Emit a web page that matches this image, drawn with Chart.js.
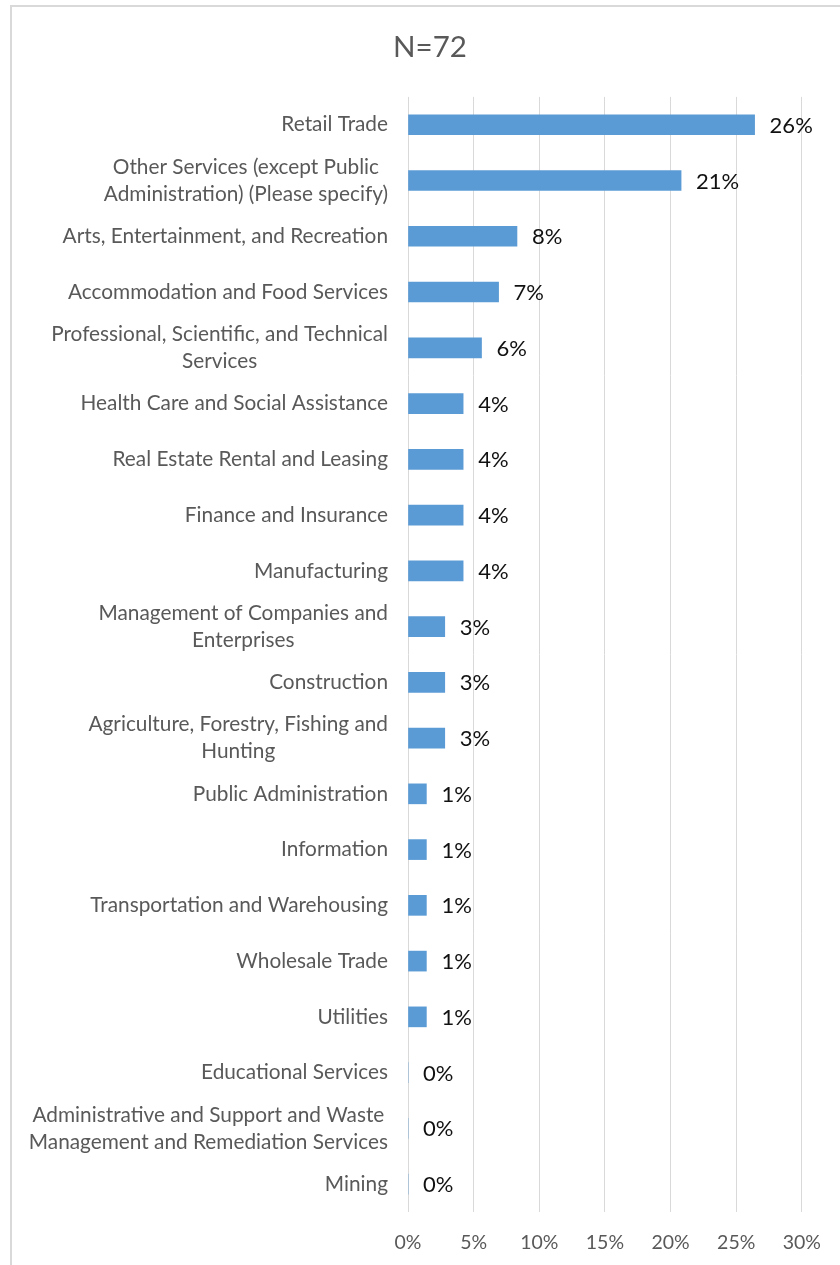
<!DOCTYPE html>
<html lang="en">
<head>
  <meta charset="UTF-8">
  <title>Industry breakdown N=72</title>
  <script src="https://cdn.jsdelivr.net/npm/chart.js"></script>
  <style>
    html, body { margin: 0; padding: 0; background: #fff; overflow: hidden; }
    #wrap { position: relative; width: 840px; height: 1265px; }
    #frame { position: absolute; left: 10px; top: 5px; width: 900px; height: 1400px; border: 2px solid #d9d9d9; box-sizing: border-box; }
    canvas { position: absolute; left: 0; top: 0; }
  </style>
</head>
<body>
<div id="wrap">
  <div id="frame"></div>
  <canvas id="industryChart" width="840" height="1265"></canvas>
</div>
<script>
  // 資料
  const chartTitle = 'N=72';
  const categories = [
    'Retail Trade',
    ['Other Services (except Public', 'Administration) (Please specify)'],
    'Arts, Entertainment, and Recreation',
    'Accommodation and Food Services',
    ['Professional, Scientific, and Technical', 'Services'],
    'Health Care and Social Assistance',
    'Real Estate Rental and Leasing',
    'Finance and Insurance',
    'Manufacturing',
    ['Management of Companies and', 'Enterprises'],
    'Construction',
    ['Agriculture, Forestry, Fishing and', 'Hunting'],
    'Public Administration',
    'Information',
    'Transportation and Warehousing',
    'Wholesale Trade',
    'Utilities',
    'Educational Services',
    ['Administrative and Support and Waste', 'Management and Remediation Services'],
    'Mining'
  ];
  const shares = [26.4, 20.8, 8.3, 6.9, 5.6, 4.2, 4.2, 4.2, 4.2, 2.8, 2.8, 2.8, 1.4, 1.4, 1.4, 1.4, 1.4, 0, 0, 0];
  const xTicks = [0, 5, 10, 15, 20, 25, 30];

  const FONT = 'Lato, "Open Sans", sans-serif';
  const GREY = '#595959';

  // 類別標籤：多行的置中，整塊靠右
  const categoryLabels = {
    id: 'categoryLabels',
    afterDraw(chart) {
      const ctx = chart.ctx;
      const y = chart.scales.y;
      const right = chart.chartArea.left - 20;
      ctx.save();
      ctx.font = '20.8px ' + FONT;
      ctx.fillStyle = GREY;
      ctx.textAlign = 'center';
      ctx.textBaseline = 'middle';
      categories.forEach((lab, i) => {
        const lines = Array.isArray(lab) ? lab : [lab];
        const w = Math.max(...lines.map(l => ctx.measureText(l).width));
        const cy = y.getPixelForValue(i);
        lines.forEach((l, j) => {
          ctx.fillText(l, right - w / 2, cy + (j - (lines.length - 1) / 2) * 27);
        });
      });
      ctx.restore();
    }
  };

  // 數值標籤
  const valueLabels = {
    id: 'valueLabels',
    afterDatasetsDraw(chart) {
      const ctx = chart.ctx;
      const meta = chart.getDatasetMeta(0);
      ctx.save();
      ctx.font = '22px ' + FONT;
      ctx.fillStyle = '#111';
      ctx.textAlign = 'left';
      ctx.textBaseline = 'middle';
      meta.data.forEach((bar, i) => {
        ctx.fillText(Math.round(shares[i]) + '%', bar.x + 15, bar.y + 1);
      });
      ctx.restore();
    }
  };

  new Chart(document.getElementById('industryChart'), {
    type: 'bar',
    data: {
      labels: categories,
      datasets: [{
        data: shares,
        backgroundColor: '#5b9bd5',
        barThickness: 20
      }]
    },
    options: {
      indexAxis: 'y',
      responsive: false,
      animation: false,
      layout: { padding: { left: 54, right: 34, top: 0, bottom: 0 } },
      plugins: {
        legend: { display: false },
        tooltip: { enabled: false },
        title: {
          display: true,
          text: chartTitle,
          color: GREY,
          font: { family: FONT, size: 29.5, weight: 'normal' },
          padding: { top: 30, bottom: 31.5 }
        }
      },
      scales: {
        x: {
          min: 0,
          max: 30,
          afterBuildTicks: s => { s.ticks = xTicks.map(v => ({ value: v })); },
          afterFit: s => { s.height = 53; },
          grid: { color: '#d9d9d9', drawTicks: false },
          border: { display: false },
          ticks: {
            padding: 19,
            color: GREY,
            font: { family: FONT, size: 19.5 },
            callback: v => v + '%'
          }
        },
        y: {
          afterFit: s => { s.width = 354; },
          grid: { display: false },
          border: { display: false },
          ticks: { display: false }
        }
      }
    },
    plugins: [categoryLabels, valueLabels]
  });
</script>
</body>
</html>
